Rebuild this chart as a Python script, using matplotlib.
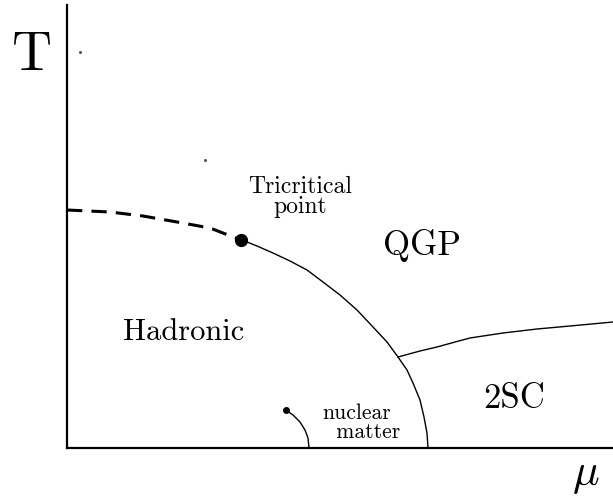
import matplotlib
matplotlib.use("Agg")
import matplotlib.pyplot as plt

plt.rcParams['font.family'] = 'serif'
plt.rcParams['font.serif'] = ['cmr10']
plt.rcParams['mathtext.fontset'] = 'cm'
plt.rcParams['axes.formatter.use_mathtext'] = True

# phase boundaries (mu, T) in arbitrary units, origin at axis corner
crossover_mu = [0, 43, 76, 110, 143, 174]
crossover_T = [238, 236, 232, 226, 220, 208]

firstorder_mu = [174, 180, 190, 206, 223, 240, 256, 273, 290, 306, 320,
                 331, 340, 346, 353, 357, 360, 361]
firstorder_T = [208, 206, 202, 195, 187, 178, 166, 153, 138, 121, 106,
                91, 78, 65, 48, 31, 15, 0]

csc_mu = [331, 353, 370, 388, 403, 436, 470, 503, 546]
csc_T = [91, 97, 101, 106, 110, 115, 119, 122, 126]

nuclear_mu = [219, 226, 233, 238, 241, 242]
nuclear_T = [38, 33, 26, 18, 10, 0]

tricritical = (174, 208)
nuclear_point = (219, 38)

fig = plt.figure(figsize=(6.13, 5.04), dpi=100)
ax = fig.add_axes([67/613, 56/504, 546/613, 443/504])
ax.set_xlim(0, 546)
ax.set_ylim(0, 443)
for s in ['top', 'right']:
    ax.spines[s].set_visible(False)
for s in ['left', 'bottom']:
    ax.spines[s].set_linewidth(1.6)
ax.set_xticks([])
ax.set_yticks([])

ax.plot(crossover_mu, crossover_T, color='black', lw=2.2, dashes=(5, 3), clip_on=False)
ax.plot(firstorder_mu, firstorder_T, color='black', lw=1.0, clip_on=False)
ax.plot(csc_mu, csc_T, color='black', lw=1.0, clip_on=False)
ax.plot(nuclear_mu, nuclear_T, color='black', lw=1.0, clip_on=False)
ax.plot(*tricritical, 'o', color='black', ms=8.5, clip_on=False)
ax.plot(*nuclear_point, 'o', color='black', ms=4, clip_on=False)

# stray specks in the original
ax.plot([13, 138], [396, 288], 'o', color='#555555', ms=1.2, clip_on=False)

ax.text(233, 255, 'Tricritical', fontsize=17, ha='center', va='baseline')
ax.text(233, 235, 'point', fontsize=17, ha='center', va='baseline')
ax.text(316, 193, 'QGP', fontsize=25, va='baseline')
ax.text(56, 108, 'Hadronic', fontsize=22, va='baseline')
ax.text(416, 40, '2SC', fontsize=25, va='baseline')
ax.text(255, 10, 'nuclear\n  matter', fontsize=15.5, va='baseline',
        linespacing=0.95)
ax.text(-55, 378, 'T', fontsize=40, va='baseline')
ax.text(505, -37, r'$\mu$', fontsize=32, va='baseline')

fig.savefig('out.png', dpi=100)
